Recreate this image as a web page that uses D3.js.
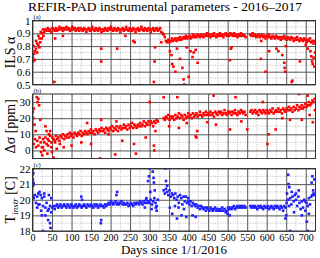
<!DOCTYPE html>
<html>
<head>
<meta charset="utf-8">
<script src="https://cdn.jsdelivr.net/npm/d3@7"></script>
<style>
    body { margin: 0; background: #fff; }
    svg { display: block; }
</style>
</head>
<body>
<div id="chart"></div>
<script>

// sampling step of the band arrays, in days (first sample on day 0)
const dayStep = 3;

// ILS alpha, one sample every 3 days
const ilsAlpha = [
    0.72, 0.80, 0.76, 0.84, 0.82, 0.88, 0.86, 0.91, 0.90, 0.93,
    0.91, 0.93, 0.92, 0.94, 0.92, 0.93, 0.91, 0.94, 0.93, 0.92,
    0.94, 0.92, 0.93, 0.95, 0.93, 0.94, 0.92, 0.94, 0.93, 0.95,
    0.93, 0.94, 0.92, 0.93, 0.95, 0.93, 0.94, 0.92, 0.93, 0.94,
    0.92, 0.94, 0.93, 0.92, 0.94, 0.93, 0.91, 0.93, 0.94, 0.92,
    0.93, 0.95, 0.93, 0.92, 0.94, 0.93, 0.92, 0.94, 0.93, 0.91,
    0.93, 0.92, 0.94, 0.93, 0.92, 0.94, 0.93, 0.95, 0.93, 0.92,
    0.94, 0.93, 0.92, 0.94, 0.93, 0.91, 0.93, 0.94, 0.92, 0.93,
    0.95, 0.93, 0.92, 0.94, 0.93, 0.92, 0.94, 0.93, 0.91, 0.93,
    0.94, 0.92, 0.93, 0.95, 0.93, 0.92, 0.94, 0.93, 0.92, 0.94,
    0.93, 0.91, 0.93, 0.94, 0.92, 0.93, 0.94, 0.92, 0.93, 0.94,
    0.91, 0.90, 0.89, 0.87, 0.84, 0.83, 0.85, 0.83, 0.84, 0.86,
    0.84, 0.85, 0.86, 0.84, 0.86, 0.85, 0.87, 0.85, 0.86, 0.87,
    0.86, 0.88, 0.86, 0.87, 0.88, 0.86, 0.87, 0.89, 0.87, 0.88,
    0.87, 0.89, 0.88, 0.87, 0.89, 0.88, 0.87, 0.89, 0.88, 0.90,
    0.88, 0.89, 0.87, 0.89, 0.88, 0.90, 0.88, 0.87, 0.89, 0.88,
    0.90, 0.88, 0.89, 0.87, 0.89, 0.90, 0.88, 0.89, 0.88, 0.90,
    0.89, 0.88, 0.90, 0.88, 0.89, 0.87, 0.89, 0.88, 0.90, 0.88,
    0.89, 0.88, 0.87, null, null, null, 0.89, 0.88, 0.90, 0.88,
    0.89, 0.87, 0.88, 0.89, 0.87, 0.88, 0.89, 0.87, 0.88, 0.86,
    0.88, 0.87, 0.89, 0.87, 0.86, 0.88, 0.87, 0.86, 0.88, 0.87,
    0.86, 0.87, 0.85, 0.87, 0.86, 0.88, 0.86, 0.85, 0.87, 0.86,
    0.85, 0.87, 0.86, 0.84, 0.86, 0.85, 0.87, 0.85, 0.84, 0.86,
    0.85, 0.84, 0.86, 0.85, 0.83, 0.85, 0.84, 0.86, 0.83, 0.84,
    0.82, 0.84
];

// scattered ILS points, [day, alpha]
const ilsOutliers = [
    [1, 0.68], [2, 0.70], [4, 0.74], [6, 0.69], [9, 0.78], [12, 0.75], [15, 0.81],
    [18, 0.79], [20, 0.83], [24, 0.86], [28, 0.88], [56, 0.52], [58, 0.86], [78, 0.88],
    [176, 0.68], [176, 0.78], [217, 0.78], [238, 0.88], [258, 0.84], [262, 0.83],
    [311, 0.52], [313, 0.68], [314, 0.79], [330, 0.83], [352, 0.76], [356, 0.73],
    [358, 0.66], [361, 0.64], [366, 0.60], [370, 0.78], [378, 0.70], [384, 0.63],
    [387, 0.54], [389, 0.50], [395, 0.79], [400, 0.56], [405, 0.76], [410, 0.715],
    [413, 0.75], [418, 0.77], [423, 0.67], [506, 0.69], [508, 0.78], [510, 0.79],
    [585, 0.70], [586, 0.84], [597, 0.60], [606, 0.76], [625, 0.78], [630, 0.76],
    [640, 0.73], [645, 0.67], [646, 0.63], [647, 0.60], [649, 0.80], [664, 0.52],
    [666, 0.53], [685, 0.68], [700, 0.81], [705, 0.78], [712, 0.76], [714, 0.72],
    [716, 0.68], [718, 0.66], [720, 0.71], [722, 0.64], [724, 0.75]
];

// delta sigma [ppm], one sample every 3 days
const deltaSigma = [
    9, 4, 7, 2, 6, 3, 8, 5, 2, 7,
    5, 8, 4, 7, 6, 9, 5, 8, 7, 6,
    9, 7, 8, 6, 9, 8, 10, 7, 9, 8,
    10, 8, 11, 9, 10, 8, 11, 10, 9, 11,
    10, 12, 9, 11, 10, 12, 11, 10, 12, 11,
    13, 11, 12, 10, 13, 12, 11, 13, 12, 14,
    12, 13, 11, 14, 13, 12, 14, 13, 15, 12,
    14, 13, 15, 12, 14, 15, 13, 14, 16, 14,
    15, 13, 16, 14, 15, 17, 14, 16, 15, 14,
    16, 15, 17, 15, 16, 18, 15, 17, 16, 18,
    16, 18, 17, 15, 18, 17, 19, 18, null, null,
    null, null, 20, 19, 21, 20, 22, 19, 21, 20,
    21, 19, 22, 20, 21, 23, 20, 22, 21, 19,
    22, 20, 21, 23, 21, 22, 20, 23, 21, 22,
    23, 21, 22, 24, 22, 21, 23, 22, 24, 22,
    23, 22, 24, 22, 23, 21, 24, 23, 22, 24,
    23, 24, 22, 23, 25, 23, 22, 24, 23, 24,
    22, 24, 23, 25, 23, 22, 24, 23, 25, 24,
    23, 24, 22, null, null, null, 24, 25, 23, 24,
    25, 23, 24, 22, 25, 24, 23, 25, 24, 23,
    25, 24, 23, 25, 24, 26, 23, 24, 25, 24,
    26, 24, 25, 23, 26, 25, 24, 26, 25, 27,
    25, 26, 24, 27, 25, 26, 28, 25, 27, 26,
    28, 26, 27, 29, 27, 28, 30, 28, 29, 31,
    30, 32
];

// scattered delta sigma points, [day, ppm]
const sigmaOutliers = [
    [1, 24], [2, 20], [3, 26], [5, 16], [8, 12], [11, 33], [13, 30], [15, 32], [17, 28],
    [20, 19], [22, -1], [25, -3], [27, 2], [30, 0], [33, 15], [36, 12], [38, -2], [40, 3],
    [42, 10], [45, 12], [48, 2], [50, -1], [54, -4.5], [58, 5], [62, 1], [70, 4], [80, 2],
    [100, 3], [125, 5], [140, 17], [150, 4], [173, -5], [176, 19], [195, 10], [212, -2.5],
    [215, 18], [230, 6], [260, 4], [265, -2], [290, 8], [300, 30], [311, 3], [312, 0],
    [315, 12], [336, 33], [350, 15], [371, 33], [375, 14], [395, 17], [418, 8.7], [420, 8],
    [422, 12], [448, 17.5], [464, 34], [470, 16], [506, 13], [520, 33], [535, 18], [550, 13],
    [590, 30], [602, 4], [605, 10], [623, 13], [640, 20], [660, 19], [683, 35], [690, 19],
    [705, 34], [710, 22], [718, 17.5], [724, 25]
];

// instrument temperature [C], one sample every 3 days
const tInstr = [
    20.2, 20.1, 20.3, 19.8, 20.2, 20.4, 19.7, 20.3, 20.1, 19.6,
    20.2, 19.5, 19.8, 19.3, 19.4, 19.6, 19.2, 19.5, 19.6, 19.4,
    19.6, 19.7, 19.5, 19.6, 19.7, 19.5, 19.6, 19.7, 19.6, 19.5,
    19.7, 19.6, 19.5, 19.7, 19.6, 19.5, 19.6, 19.7, 19.5, 19.6,
    19.7, 19.6, 19.5, 19.6, 19.7, 19.6, 19.5, 19.7, 19.6, 19.6,
    19.7, 19.6, 19.5, 19.7, 19.6, 19.7, 19.5, 19.6, 19.7, 19.6,
    19.6, 19.5, 19.7, 19.6, 19.7, 19.8, 19.7, 19.9, 19.8, 19.7,
    19.8, 19.9, 19.7, 19.8, 19.7, 19.8, 19.9, 19.7, 19.8, 19.7,
    19.7, 19.8, 19.6, 19.7, 19.8, 19.7, 19.6, 19.8, 19.7, 19.8,
    19.8, 19.7, 19.9, 19.8, 19.7, 19.9, 19.8, 20.0, 19.8, 19.9,
    19.8, 20.0, 19.7, 19.9, 20.1, 19.8, 19.6, 20.0, null, null,
    null, null, 20.6, 20.4, 20.7, 20.5, 20.3, 20.6, 20.2, 20.4,
    20.3, 20.1, 20.4, 20.0, 20.2, 19.8, 20.3, 20.1, 19.7, 20.2,
    19.9, 20.2, 19.8, 20.1, 19.7, 19.9, 19.6, 19.8, 19.7, 19.6,
    19.7, 19.5, 19.6, 19.4, 19.6, 19.5, 19.4, 19.5, 19.3, 19.5,
    19.4, 19.3, 19.5, 19.4, 19.3, 19.4, 19.5, 19.3, 19.4, 19.3,
    19.4, 19.3, 19.5, 19.3, 19.4, 19.2, 19.3, 19.5, 19.4, 19.5,
    19.4, 19.5, 19.6, 19.4, 19.5, 19.6, 19.5, 19.6, 19.5, 19.6,
    19.5, 19.6, 19.5, null, null, null, 19.6, 19.5, 19.6, 19.5,
    19.6, 19.5, 19.4, 19.6, 19.5, 19.6, 19.5, 19.4, 19.6, 19.5,
    19.5, 19.6, 19.4, 19.5, 19.6, 19.5, 19.4, 19.6, 19.5, 19.6,
    19.5, 19.4, 19.6, 19.5, 19.3, 19.6, 19.5, 19.8, 20.0, 19.6,
    20.1, 19.7, 20.2, 19.9, 20.3, 20.0, 19.6, 20.2, 19.8, 19.4,
    19.9, 19.5, 20.0, 19.3, 19.8, 19.6, 20.1, 19.7, 20.2, 20.3,
    20.4, 20.3
];

// scattered temperature points, [day, C]
const tempOutliers = [
    [0, 21.9], [0, 21.6], [1, 21.3], [1, 20.9], [2, 21.1], [2, 21.7], [3, 21.0],
    [12, 19.5], [15, 19.7], [18, 20.5], [22, 19.3], [24, 19.0], [27, 18.0], [30, 20.4],
    [33, 19.0], [40, 18.7], [42, 20.3], [45, 18.5], [46, 18.2], [48, 20.1],
    [125, 20.2], [127, 20.0], [175, 18.5], [176, 18.7], [215, 20.3], [217, 20.5],
    [288, 19.5], [292, 20.1], [296, 21.2], [298, 21.5], [300, 22.0], [302, 20.5],
    [305, 19.4], [308, 21.8], [310, 21.4], [311, 21.1], [313, 20.6], [316, 19.5],
    [318, 19.3], [340, 22.0], [342, 21.2], [345, 20.9], [352, 19.5], [358, 19.1],
    [365, 19.6], [370, 18.8], [374, 19.5], [382, 19.0], [388, 19.4], [394, 18.9],
    [400, 19.9], [410, 19.0], [418, 18.9], [500, 19.1], [505, 19.0],
    [648, 18.8], [650, 19.0], [652, 20.4], [655, 21.6], [656, 21.0], [658, 20.8],
    [660, 18.0], [664, 20.5], [670, 19.2], [675, 20.4], [682, 20.6], [690, 19.0],
    [698, 19.9], [703, 18.6], [705, 18.0], [708, 19.1], [715, 21.1], [717, 21.5],
    [719, 20.6], [722, 21.3]
];

const dayTicks = [0, 50, 100, 150, 200, 250, 300, 350, 400, 450, 500, 550, 600, 650, 700];
const dayMinor = [25, 75, 125, 175, 225, 275, 325, 375, 425, 475, 525, 575, 625, 675, 725];

const panels = [
    { tag: '(a)', values: ilsAlpha, outliers: ilsOutliers, domain: [0.5, 1], top: 20.5, bottom: 84.5,
      ticks: [0.5, 0.6, 0.7, 0.8, 0.9, 1], minor: [0.55, 0.65, 0.75, 0.85, 0.95], fmt: d => d === 1 ? '1' : d3.format('.1f')(d),
      color: '#ff0000' },
    { tag: '(b)', values: deltaSigma, outliers: sigmaOutliers, domain: [-5, 35], top: 94, bottom: 158.5,
      ticks: [0, 10, 20, 30], minor: [5, 15, 25], fmt: d3.format('d'),
      color: '#ff0000' },
    { tag: '(c)', values: tInstr, outliers: tempOutliers, domain: [18, 22], top: 168.5, bottom: 231,
      ticks: [18, 19, 20, 21, 22], minor: [18.5, 19.5, 20.5, 21.5], fmt: d3.format('d'),
      color: '#1f1fff' }
];

(function () {

    let
        width = 320,
        height = 258,
        left = 32.5,
        right = 315.5,
        serif = '"Liberation Serif", "DejaVu Serif", serif',

        svg = d3
        .select('#chart')
        .append('svg')
        .attr('width', width)
        .attr('height', height),

        x = d3.scaleLinear().domain([0, 725]).range([left, right]);

    svg.append('text')
        .attr('x', 165)
        .attr('y', 10.5)
        .attr('text-anchor', 'middle')
        .style('font-family', serif)
        .style('font-size', '13.5px')
        .text('REFIR-PAD instrumental parameters - 2016\u20132017');

    panels.forEach(function (p, k) {

        let
            y = d3.scaleLinear().domain(p.domain).range([p.bottom, p.top]),
            g = svg.append('g'),
            clipId = 'clip' + k;

        svg.append('clipPath')
            .attr('id', clipId)
            .append('rect')
            .attr('x', left)
            .attr('y', p.top)
            .attr('width', right - left)
            .attr('height', p.bottom - p.top);

        // minor dotted grid
        g.selectAll('.vminor')
            .data(dayMinor)
            .join('line')
            .attr('x1', d => x(d))
            .attr('x2', d => x(d))
            .attr('y1', p.top)
            .attr('y2', p.bottom)
            .style('stroke', '#a8a8a8')
            .style('stroke-width', 0.8)
            .style('stroke-dasharray', '1,1.5');

        g.selectAll('.hminor')
            .data(p.minor)
            .join('line')
            .attr('x1', left)
            .attr('x2', right)
            .attr('y1', d => y(d))
            .attr('y2', d => y(d))
            .style('stroke', '#a8a8a8')
            .style('stroke-width', 0.8)
            .style('stroke-dasharray', '1,1.5');

        // major grid
        g.append('g')
            .attr('transform', 'translate(0,' + p.bottom + ')')
            .call(d3.axisBottom(x).tickValues(dayTicks).tickSize(-(p.bottom - p.top)).tickFormat(''))
            .call(a => a.select('.domain').remove())
            .selectAll('line')
            .style('stroke', '#555')
            .style('stroke-width', 1);

        g.append('g')
            .attr('transform', 'translate(' + left + ',0)')
            .call(d3.axisLeft(y).tickValues(p.ticks).tickSize(-(right - left)).tickPadding(2).tickFormat(p.fmt))
            .call(a => a.select('.domain').remove())
            .call(a => a.selectAll('line').style('stroke', '#555').style('stroke-width', 1))
            .call(a => a.selectAll('text')
                .style('font-family', serif)
                .style('font-size', '11px')
                .attr('fill', '#000'));

        // points
        let pts = p.values
            .map((v, i) => [i * dayStep, v])
            .filter(d => d[1] !== null)
            .concat(p.outliers);

        g.append('g')
            .attr('clip-path', 'url(#' + clipId + ')')
            .selectAll('rect')
            .data(pts)
            .join('rect')
            .attr('x', d => x(d[0]) - 1.3)
            .attr('y', d => y(d[1]) - 1.3)
            .attr('width', 2.6)
            .attr('height', 2.6)
            .style('fill', p.color);

        // frame
        g.append('rect')
            .attr('x', left)
            .attr('y', p.top)
            .attr('width', right - left)
            .attr('height', p.bottom - p.top)
            .style('fill', 'none')
            .style('stroke', '#333')
            .style('stroke-width', 1);

        g.append('text')
            .attr('x', left + 1)
            .attr('y', p.top - 1.5)
            .style('font-family', serif)
            .style('font-size', '6.5px')
            .text(p.tag);
    });

    // x tick labels under the last panel
    let last = panels[panels.length - 1];
    svg.append('g')
        .attr('transform', 'translate(0,' + last.bottom + ')')
        .call(d3.axisBottom(x).tickValues(dayTicks).tickSize(0).tickPadding(3).tickFormat(d3.format('d')))
        .call(a => a.select('.domain').remove())
        .selectAll('text')
        .style('font-family', serif)
        .style('font-size', '10px')
        .attr('fill', '#000');

    svg.append('text')
        .attr('x', 174)
        .attr('y', 254)
        .attr('text-anchor', 'middle')
        .style('font-family', serif)
        .style('font-size', '13px')
        .text('Days since 1/1/2016');

    // y axis titles
    let titles = [
        { y: (panels[0].top + panels[0].bottom) / 2, parts: [['ILS \u03b1']] },
        { y: (panels[1].top + panels[1].bottom) / 2, parts: [['\u0394\u03c3 [ppm]']] },
        { y: (panels[2].top + panels[2].bottom) / 2, parts: [['T'], ['instr', 'sub'], [' [C]']] }
    ];

    titles.forEach(function (t) {
        let text = svg.append('text')
            .attr('transform', 'translate(15,' + t.y + ') rotate(-90)')
            .attr('text-anchor', 'middle')
            .style('font-family', serif)
            .style('font-size', '14px');

        t.parts.forEach(function (part) {
            let span = text.append('tspan').text(part[0]);
            if (part[1] === 'sub') {
                span.style('font-size', '9px').style('font-style', 'italic').attr('dy', 3);
            } else if (text.selectAll('tspan').size() > 1) {
                span.attr('dy', -3);
            }
        });
    });

})();
</script>
</body>
</html>
